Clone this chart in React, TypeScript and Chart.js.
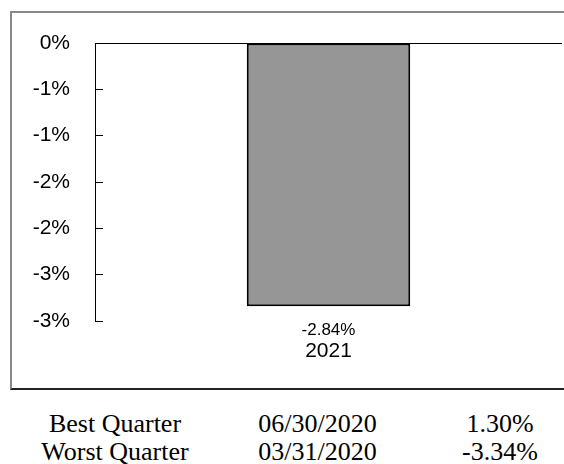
import React, { useEffect, useRef } from "react";
import { Chart, registerables } from "chart.js";

Chart.register(...registerables);

const categories = ["2021"];
const seriesValues = [-2.84];
const valueLabels = ["-2.84%"];
const tickValues = [0, -0.5, -1, -1.5, -2, -2.5, -3];
const tickLabels = ["0%", "-1%", "-1%", "-2%", "-2%", "-3%", "-3%"];
const tableRows = [
  ["Best Quarter", "06/30/2020", "1.30%"],
  ["Worst Quarter", "03/31/2020", "-3.34%"],
];
const tableCenters = [115, 317.5, 500];

const SANS = "'Liberation Sans', Arial, sans-serif";

export default function App() {
  const ref = useRef<HTMLCanvasElement | null>(null);

  useEffect(() => {
    if (!ref.current) return;
    const chart = new Chart(ref.current, {
      type: "bar",
      data: {
        labels: categories,
        datasets: [
          {
            data: seriesValues,
            backgroundColor: "#969696",
            borderColor: "#000000",
            borderWidth: 2,
            borderSkipped: false,
            categoryPercentage: 1,
            barPercentage: 0.35,
            xAxisID: "x",
            yAxisID: "y",
          },
        ],
      },
      options: {
        responsive: false,
        animation: false,
        layout: { padding: { left: 0, top: 30, right: 2, bottom: 0 } },
        plugins: { legend: { display: false }, tooltip: { enabled: false } },
        scales: {
          x: {
            type: "category",
            position: "bottom",
            weight: 1,
            offset: true,
            grid: { display: false, drawTicks: false },
            border: { display: false },
            ticks: {
              padding: 0,
              color: "#000",
              font: { family: SANS, size: 21, lineHeight: 1.1 },
              maxRotation: 0,
            },
            afterFit: (s: any) => {
              s.height = 48;
              s.paddingLeft = 0;
              s.paddingRight = 0;
            },
          },
          x2: {
            type: "category",
            position: "bottom",
            weight: 0,
            offset: true,
            labels: valueLabels,
            grid: { display: false, drawTicks: false },
            border: { display: false },
            ticks: {
              padding: 0,
              color: "#000",
              font: { family: SANS, size: 17, lineHeight: 1.1 },
              maxRotation: 0,
            },
            afterFit: (s: any) => {
              s.height = 19;
              s.paddingLeft = 0;
              s.paddingRight = 0;
            },
          },
          y: {
            type: "linear",
            min: -3,
            max: 0,
            afterBuildTicks: (s: any) => {
              s.ticks = tickValues.map((v) => ({ value: v }));
            },
            grid: {
              color: (ctx: any) =>
                ctx.tick && ctx.tick.value === 0 ? "#000" : "rgba(0,0,0,0)",
              tickColor: "#000",
              tickLength: -8,
              lineWidth: 1,
            },
            border: { display: true, color: "#000", width: 1 },
            ticks: {
              padding: 33,
              color: "#000",
              font: { family: SANS, size: 21 },
              callback: (_v: any, i: number) => tickLabels[i],
            },
            afterFit: (s: any) => {
              s.width = 83;
              s.paddingTop = 0;
              s.paddingBottom = 0;
            },
          },
        },
      },
    });
    return () => chart.destroy();
  }, []);

  return (
    <div
      style={{
        position: "fixed",
        left: 0,
        top: 0,
        width: 564,
        height: 464,
        overflow: "hidden",
        background: "#fff",
      }}
    >
      <div
        style={{
          position: "absolute",
          left: 10,
          top: 11,
          width: 1000,
          height: 379,
          boxSizing: "border-box",
          borderLeft: "2px solid #888",
          borderTop: "2px solid #888",
          borderBottom: "2px solid #222",
          borderRight: "none",
        }}
      />
      <canvas
        ref={ref}
        width={552}
        height={375}
        style={{ position: "absolute", left: 12, top: 13, width: 552, height: 375 }}
      />
      {tableRows.map((row, r) =>
        row.map((cell, c) => (
          <div
            key={r + "-" + c}
            style={{
              position: "absolute",
              left: tableCenters[c] - 100,
              top: 410.2 + r * 28,
              width: 200,
              textAlign: "center",
              fontFamily: "'Liberation Serif', 'Times New Roman', serif",
              fontSize: 26,
              lineHeight: "28px",
              color: "#000",
              whiteSpace: "nowrap",
            }}
          >
            {cell}
          </div>
        ))
      )}
    </div>
  );
}
